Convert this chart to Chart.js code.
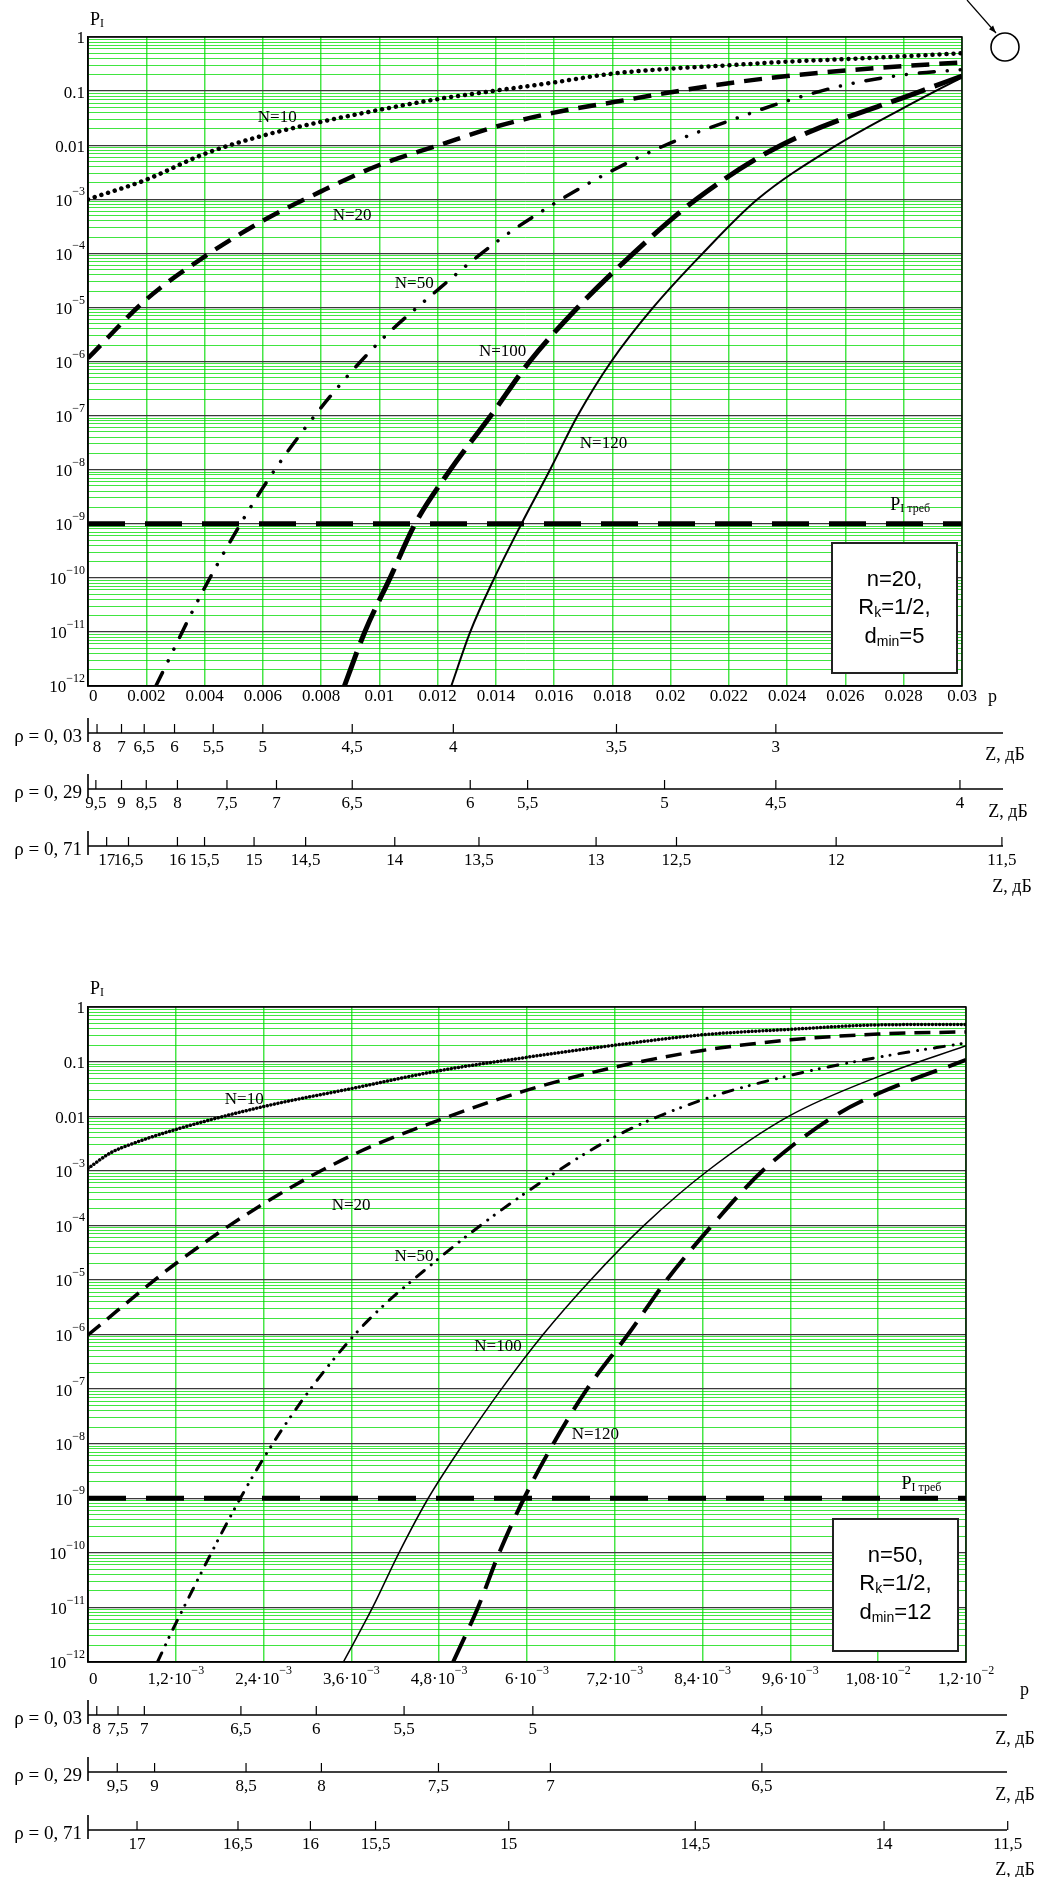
<!DOCTYPE html>
<html>
<head>
<meta charset="utf-8">
<script src="https://cdn.jsdelivr.net/npm/chart.js@4.4.1/dist/chart.umd.min.js"></script>
<style>
  html, body { margin: 0; padding: 0; background: #fff; }
  #wrap { position: relative; width: 1047px; height: 1877px; overflow: hidden; }
  canvas { position: absolute; left: 0; }
</style>
</head>
<body>
<div id="wrap">
  <canvas id="topChart" width="1047" height="960" style="top:0"></canvas>
  <canvas id="bottomChart" width="1047" height="917" style="top:960px"></canvas>
</div>
<script>
const SERIF = '"Liberation Serif", "Times New Roman", serif';
const SANS = '"Liberation Sans", Arial, sans-serif';

// ---------- y axis (shared) ----------
const yDecades = [1, 0.1, 0.01, 1e-3, 1e-4, 1e-5, 1e-6, 1e-7, 1e-8, 1e-9, 1e-10, 1e-11, 1e-12];
const yDecadeBase = ["1", "0.1", "0.01", "10", "10", "10", "10", "10", "10", "10", "10", "10", "10"];
const yDecadeExp = ["", "", "", "−3", "−4", "−5", "−6", "−7", "−8", "−9", "−10", "−11", "−12"];

// ---------- top plot: n=20, Rk=1/2, dmin=5 ----------
const topXTicks = [0, 0.002, 0.004, 0.006, 0.008, 0.01, 0.012, 0.014, 0.016, 0.018, 0.02, 0.022, 0.024, 0.026, 0.028, 0.03];
const topXLabels = ["0", "0.002", "0.004", "0.006", "0.008", "0.01", "0.012", "0.014", "0.016", "0.018", "0.02", "0.022", "0.024", "0.026", "0.028", "0.03"];

const topN10P = [0, 0.002, 0.004, 0.006, 0.008, 0.01, 0.012, 0.014, 0.016, 0.018, 0.02, 0.022, 0.024, 0.026, 0.028, 0.03];
const topN10 = [1e-3, 2.3e-3, 6.9e-3, 1.5e-2, 2.7e-2, 4.5e-2, 7.1e-2, 0.102, 0.145, 0.21, 0.26, 0.30, 0.35, 0.39, 0.44, 0.50];
const topN20P = [0, 0.002, 0.004, 0.006, 0.008, 0.01, 0.012, 0.014, 0.016, 0.018, 0.02, 0.022, 0.024, 0.026, 0.028, 0.03];
const topN20 = [1.15e-6, 1.4e-5, 8.7e-5, 4.0e-4, 1.4e-3, 4.3e-3, 9.8e-3, 2.2e-2, 4.0e-2, 6.2e-2, 9.5e-2, 0.14, 0.19, 0.24, 0.29, 0.34];
const topN50P = [0.00233, 0.004, 0.006, 0.008, 0.01, 0.012, 0.014, 0.016, 0.018, 0.02, 0.022, 0.024, 0.026, 0.028, 0.03];
const topN50 = [1e-12, 6.5e-11, 4.6e-9, 1.4e-7, 2.3e-6, 2.1e-5, 1.6e-4, 8.3e-4, 3.4e-3, 1.1e-2, 2.8e-2, 6.6e-2, 0.13, 0.20, 0.25];
const topN100P = [0.0088, 0.0095, 0.01037, 0.01123, 0.01244, 0.01383, 0.01516, 0.01681, 0.01872, 0.02088, 0.02379, 0.0286, 0.03];
const topN100 = [1e-12, 1e-11, 1e-10, 1e-9, 1e-8, 1e-7, 1e-6, 1e-5, 1e-4, 1e-3, 1e-2, 0.1, 0.19];
const topN120P = [0.01247, 0.01312, 0.01395, 0.01488, 0.01586, 0.01681, 0.01796, 0.0194, 0.0211, 0.02298, 0.0257, 0.028, 0.03];
const topN120 = [1e-12, 1e-11, 1e-10, 1e-9, 1e-8, 1e-7, 1e-6, 1e-5, 1e-4, 1e-3, 1e-2, 4.9e-2, 0.18];
const topReqP = [0, 0.03];
const topReq = [1e-9, 1e-9];

const curveNames = ["N=10", "N=20", "N=50", "N=100", "N=120"];
const topNameP = [0.00583, 0.0084, 0.01053, 0.01342, 0.01688];
const topNameVal = [0.032, 4.9e-4, 2.8e-5, 1.5e-6, 3.1e-8];

const topZ03Labels = ["8", "7", "6,5", "6", "5,5", "5", "4,5", "4", "3,5", "3"];
const topZ03P = [0.00031, 0.00115, 0.00193, 0.00297, 0.0043, 0.006, 0.00907, 0.01254, 0.01814, 0.02361];
const topZ29Labels = ["9,5", "9", "8,5", "8", "7,5", "7", "6,5", "6", "5,5", "5", "4,5", "4"];
const topZ29P = [0.00027, 0.00115, 0.002, 0.00307, 0.00477, 0.00647, 0.00907, 0.01312, 0.01509, 0.01979, 0.02361, 0.02993];
const topZ71Labels = ["17", "16,5", "16", "15,5", "15", "14,5", "14", "13,5", "13", "12,5", "12", "11,5"];
const topZ71P = [0.00064, 0.00139, 0.00307, 0.004, 0.0057, 0.00747, 0.01053, 0.01342, 0.01744, 0.0202, 0.02568, 0.03137];

// ---------- bottom plot: n=50, Rk=1/2, dmin=12 ----------
const botXTicks = [0, 0.0012, 0.0024, 0.0036, 0.0048, 0.006, 0.0072, 0.0084, 0.0096, 0.0108, 0.012];
const botXBase = ["0", "1,2·10", "2,4·10", "3,6·10", "4,8·10", "6·10", "7,2·10", "8,4·10", "9,6·10", "1,08·10", "1,2·10"];
const botXExp = ["", "−3", "−3", "−3", "−3", "−3", "−3", "−3", "−3", "−2", "−2"];

const botN10P = [0, 0.0003, 0.0006, 0.0012, 0.0024, 0.0036, 0.0048, 0.006, 0.0072, 0.0084, 0.0096, 0.0108, 0.012];
const botN10 = [1.1e-3, 2.1e-3, 3.1e-3, 5.7e-3, 1.5e-2, 3.2e-2, 6.8e-2, 0.12, 0.20, 0.31, 0.39, 0.47, 0.48];
const botN20P = [0, 0.0012, 0.0024, 0.0036, 0.0048, 0.006, 0.0072, 0.0084, 0.0096, 0.0108, 0.012];
const botN20 = [9.8e-7, 2.0e-5, 2.5e-4, 1.9e-3, 8.5e-3, 3.0e-2, 7.9e-2, 0.16, 0.25, 0.32, 0.35];
const botN50P = [0.00095, 0.0012, 0.0024, 0.0036, 0.0048, 0.006, 0.0072, 0.0084, 0.0096, 0.0108, 0.012];
const botN50 = [1e-12, 5.1e-12, 5.4e-9, 8.5e-7, 2.5e-5, 4.1e-4, 4.2e-3, 2.0e-2, 5.6e-2, 0.12, 0.22];
const botN100P = [0.00349, 0.00389, 0.00425, 0.00465, 0.00513, 0.00565, 0.00622, 0.00687, 0.0076, 0.00847, 0.00958, 0.0108, 0.012];
const botN100 = [1e-12, 1e-11, 1e-10, 1e-9, 1e-8, 1e-7, 1e-6, 1e-5, 1e-4, 1e-3, 1e-2, 5.3e-2, 0.195];
const botN120P = [0.00499, 0.00533, 0.00562, 0.00596, 0.00636, 0.00682, 0.00738, 0.00791, 0.00853, 0.00922, 0.0102, 0.0108, 0.012];
const botN120 = [1e-12, 1e-11, 1e-10, 1e-9, 1e-8, 1e-7, 1e-6, 1e-5, 1e-4, 1e-3, 1e-2, 2.6e-2, 0.107];
const botReqP = [0, 0.012];
const botReq = [1e-9, 1e-9];

const botNameP = [0.00187, 0.00333, 0.00419, 0.00528, 0.00661];
const botNameVal = [0.02, 2.3e-4, 2.7e-5, 5.9e-7, 1.5e-8];

const botZ03Labels = ["8", "7,5", "7", "6,5", "6", "5,5", "5", "4,5"];
const botZ03P = [0.00012, 0.00041, 0.00077, 0.00209, 0.00312, 0.00432, 0.00608, 0.00921];
const botZ29Labels = ["9,5", "9", "8,5", "8", "7,5", "7", "6,5"];
const botZ29P = [0.0004, 0.00091, 0.00216, 0.00319, 0.00479, 0.00632, 0.00921];
const botZ71Labels = ["17", "16,5", "16", "15,5", "15", "14,5", "14", "11,5"];
const botZ71P = [0.00067, 0.00205, 0.00304, 0.00393, 0.00575, 0.0083, 0.01088, 0.01257];

// ---------- helpers ----------
function isDecade(v) {
  const l = Math.log10(v);
  return Math.abs(l - Math.round(l)) < 1e-6;
}

function logGridTicks() {
  const t = [];
  for (let e = -12; e < 0; e++) {
    for (let m = 1; m <= 9; m++) t.push({ value: m * Math.pow(10, e) });
  }
  t.push({ value: 1 });
  return t;
}

// parts: [text, size, dy]
function rich(ctx, parts, x, y, align, family) {
  let w = 0;
  for (const p of parts) { ctx.font = p[1] + 'px ' + family; w += ctx.measureText(p[0]).width; }
  let cx = align === 'right' ? x - w : align === 'center' ? x - w / 2 : x;
  ctx.textAlign = 'left';
  ctx.textBaseline = 'middle';
  for (const p of parts) {
    ctx.font = p[1] + 'px ' + family;
    ctx.fillText(p[0], cx, y + (p[2] || 0));
    cx += ctx.measureText(p[0]).width;
  }
}

function series(ps, vals, style) {
  return Object.assign({
    data: ps.map((p, i) => ({ x: p, y: vals[i] })),
    borderColor: '#000',
    fill: false,
    pointRadius: 0,
    cubicInterpolationMode: 'monotone'
  }, style);
}

function decor(d) {
  return {
    id: 'decor',
    afterDraw(chart) {
      const { ctx, chartArea: a, scales: { x, y } } = chart;
      ctx.save();
      ctx.fillStyle = '#000';
      ctx.strokeStyle = '#000';

      // frame
      ctx.lineWidth = 1.5;
      ctx.strokeRect(a.left, a.top, a.right - a.left, a.bottom - a.top);

      // y tick labels
      yDecades.forEach((v, i) => {
        rich(ctx, [[yDecadeBase[i], 17], [yDecadeExp[i], 12, -9]], a.left - 3, y.getPixelForValue(v) + 2, 'right', SERIF);
      });

      // x tick labels
      d.xTicks.forEach((v, i) => {
        const px = x.getPixelForValue(v);
        rich(ctx, [[d.xBase[i], 17], [d.xExp[i], 12, -9]], i === 0 ? px + 1 : px, a.bottom + d.xLabelDy, i === 0 ? 'left' : 'center', SERIF);
      });

      // axis titles
      rich(ctx, [['P', 18], ['I', 12, 4]], a.left + 2, a.top + d.pTitleDy, 'left', SERIF);
      rich(ctx, [['p', 18]], a.right + d.xTitle[0], a.bottom + d.xTitle[1], 'left', SERIF);

      // curve names
      curveNames.forEach((n, i) => {
        rich(ctx, [[n, 17]], x.getPixelForValue(d.nameP[i]), y.getPixelForValue(d.nameVal[i]), 'left', SERIF);
      });
      rich(ctx, [['P', 18], ['I треб', 12, 4]], x.getPixelForValue(d.reqLabel[0]), y.getPixelForValue(d.reqLabel[1]), 'left', SERIF);

      // parameter box
      const bw = 125, bh = d.boxH;
      const bx = a.right - d.boxInset[0] - bw, by = a.bottom - d.boxInset[1] - bh;
      ctx.fillStyle = '#fff';
      ctx.fillRect(bx, by, bw, bh);
      ctx.strokeStyle = '#222';
      ctx.lineWidth = 2;
      ctx.strokeRect(bx, by, bw, bh);
      ctx.fillStyle = '#000';
      const cx = bx + bw / 2;
      rich(ctx, [[d.params[0], 22]], cx, by + 37, 'center', SANS);
      rich(ctx, [['R', 22], ['k', 14, 5], ['=1/2,', 22]], cx, by + 65, 'center', SANS);
      rich(ctx, [['d', 22], ['min', 14, 5], [d.params[1], 22]], cx, by + 94, 'center', SANS);

      // Z scales
      ctx.strokeStyle = '#000';
      d.rows.forEach(r => {
        const ly = a.bottom + r.dy;
        ctx.lineWidth = 1.6;
        ctx.beginPath();
        ctx.moveTo(a.left, ly);
        ctx.lineTo(a.right + 41, ly);
        ctx.moveTo(a.left, ly - 15);
        ctx.lineTo(a.left, ly + 9);
        ctx.stroke();
        ctx.lineWidth = 1.2;
        r.p.forEach((v, i) => {
          const px = x.getPixelForValue(v);
          ctx.beginPath();
          ctx.moveTo(px, ly);
          ctx.lineTo(px, ly - 9);
          ctx.stroke();
          rich(ctx, [[r.z[i], 17]], px, ly + 15, 'center', SERIF);
        });
        rich(ctx, [[r.rho, 19]], a.left - 6, ly + 4, 'right', SERIF);
        rich(ctx, [['Z, дБ', 18]], a.right + r.title[0], ly + r.title[1], 'center', SERIF);
      });

      // marker circle with arrow (top plot only)
      if (d.circle) {
        const ox = a.right + 43, oy = a.top + 10;
        ctx.lineWidth = 1.6;
        ctx.beginPath();
        ctx.arc(ox, oy, 14, 0, Math.PI * 2);
        ctx.stroke();
        const x0 = a.right + 5, y0 = 0, x1 = ox - 9, y1 = oy - 14;
        ctx.lineWidth = 1.2;
        ctx.beginPath();
        ctx.moveTo(x0, y0);
        ctx.lineTo(x1, y1);
        ctx.stroke();
        const ang = Math.atan2(y1 - y0, x1 - x0);
        ctx.beginPath();
        ctx.moveTo(x1, y1);
        ctx.lineTo(x1 - 8 * Math.cos(ang - 0.35), y1 - 8 * Math.sin(ang - 0.35));
        ctx.lineTo(x1 - 8 * Math.cos(ang + 0.35), y1 - 8 * Math.sin(ang + 0.35));
        ctx.closePath();
        ctx.fill();
      }
      ctx.restore();
    }
  };
}

function buildChart(id, d, datasets) {
  return new Chart(document.getElementById(id), {
    type: 'line',
    data: { datasets: datasets },
    options: {
      responsive: false,
      animation: false,
      devicePixelRatio: 1,
      layout: { padding: { top: d.padTop, right: d.padRight, left: 0, bottom: 0 } },
      plugins: { legend: { display: false }, tooltip: { enabled: false } },
      elements: { point: { radius: 0 } },
      scales: {
        x: {
          type: 'linear',
          min: 0,
          max: d.xMax,
          afterBuildTicks: axis => { axis.ticks = d.xTicks.map(v => ({ value: v })); },
          afterFit: s => { s.height = d.xAxisH; },
          ticks: { display: false },
          grid: { color: 'rgba(40,225,40,0.85)', lineWidth: 1.5, drawTicks: false },
          border: { display: true, color: '#000', width: 1.5 }
        },
        y: {
          type: 'logarithmic',
          min: 1e-12,
          max: 1,
          afterBuildTicks: axis => { axis.ticks = logGridTicks(); },
          afterFit: s => { s.width = 88; },
          ticks: { display: false },
          grid: {
            color: c => isDecade(c.tick.value) ? '#3a3a3a' : 'rgba(0,220,0,0.75)',
            lineWidth: c => isDecade(c.tick.value) ? 1.3 : 1,
            drawTicks: false
          },
          border: { display: true, color: '#000', width: 1.5 }
        }
      }
    },
    plugins: [decor(d)]
  });
}

buildChart('topChart', {
  padTop: 37, padRight: 85, xAxisH: 274, xMax: 0.03,
  xTicks: topXTicks, xBase: topXLabels, xExp: topXLabels.map(() => ""), xLabelDy: 11,
  pTitleDy: -17, xTitle: [26, 11],
  nameP: topNameP, nameVal: topNameVal, reqLabel: [0.02754, 2.2e-9],
  params: ["n=20,", "=5"], boxInset: [5, 13], boxH: 130,
  rows: [
    { rho: 'ρ = 0, 03', dy: 47, z: topZ03Labels, p: topZ03P, title: [43, 22] },
    { rho: 'ρ = 0, 29', dy: 103, z: topZ29Labels, p: topZ29P, title: [46, 23] },
    { rho: 'ρ = 0, 71', dy: 160, z: topZ71Labels, p: topZ71P, title: [50, 41] }
  ],
  circle: true
}, [
  series(topReqP, topReq, { borderWidth: 5, borderDash: [37, 20], tension: 0, cubicInterpolationMode: 'default' }),
  series(topN10P, topN10, { borderWidth: 4.5, borderDash: [0.01, 7], borderCapStyle: 'round' }),
  series(topN20P, topN20, { borderWidth: 4.5, borderDash: [18, 10] }),
  series(topN50P, topN50, { borderWidth: 3.5, borderDash: [15, 13, 0.01, 13, 0.01, 13], borderCapStyle: 'round' }),
  series(topN100P, topN100, { borderWidth: 5, borderDash: [36, 10] }),
  series(topN120P, topN120, { borderWidth: 2 })
]);

buildChart('bottomChart', {
  padTop: 47, padRight: 81, xAxisH: 215, xMax: 0.012,
  xTicks: botXTicks, xBase: botXBase, xExp: botXExp, xLabelDy: 18,
  pTitleDy: -18, xTitle: [54, 28],
  nameP: botNameP, nameVal: botNameVal, reqLabel: [0.01112, 1.8e-9],
  params: ["n=50,", "=12"], boxInset: [8, 11], boxH: 132,
  rows: [
    { rho: 'ρ = 0, 03', dy: 53, z: botZ03Labels, p: botZ03P, title: [49, 24] },
    { rho: 'ρ = 0, 29', dy: 110, z: botZ29Labels, p: botZ29P, title: [49, 23] },
    { rho: 'ρ = 0, 71', dy: 168, z: botZ71Labels, p: botZ71P, title: [49, 40] }
  ],
  circle: false
}, [
  series(botReqP, botReq, { borderWidth: 5, borderDash: [38, 20], tension: 0, cubicInterpolationMode: 'default' }),
  series(botN10P, botN10, { borderWidth: 3.5, borderDash: [0.01, 3.6], borderCapStyle: 'round' }),
  series(botN20P, botN20, { borderWidth: 3.5, borderDash: [16, 9] }),
  series(botN50P, botN50, { borderWidth: 3, borderDash: [10, 9, 0.01, 8, 0.01, 9], borderCapStyle: 'round' }),
  series(botN100P, botN100, { borderWidth: 1.5 }),
  series(botN120P, botN120, { borderWidth: 4, borderDash: [28, 12] })
]);
</script>
</body>
</html>
